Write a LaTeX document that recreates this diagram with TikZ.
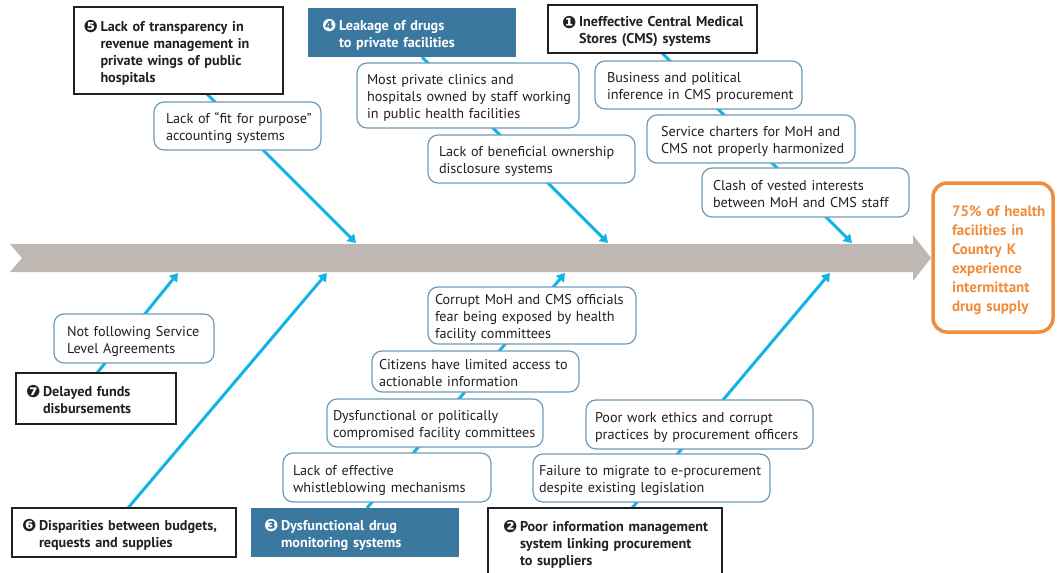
\documentclass[tikz,border=0pt]{standalone}
\usepackage{fontspec}
\setmainfont{PT Sans}
\newfontfamily\djv{DejaVu Sans}
\usetikzlibrary{arrows.meta,backgrounds,calc}
\definecolor{bonec}{RGB}{18,180,230}
\definecolor{subc}{RGB}{110,155,185}
\definecolor{hblue}{RGB}{58,120,160}
\definecolor{spinec}{RGB}{190,183,178}
\definecolor{effc}{RGB}{240,140,58}
\definecolor{txt}{RGB}{35,31,32}
\newcommand\nb[1]{\makebox[17pt][l]{\raisebox{-1.2pt}{\djv\fontsize{17}{14}\selectfont #1}}}
\newcommand\lns[1]{\raisebox{-3pt}[\height][\depth]{\begin{tabular}{@{}l@{}}#1\end{tabular}}}
\newcommand\hln[2]{\raisebox{-3pt}[\height][\depth]{\begin{tabular}{@{}l@{}l@{}}#1&#2\end{tabular}}}
\tikzset{
  every node/.style={outer sep=0pt},
  txtfont/.style={font=\fontsize{14.2}{17}\selectfont, text=txt},
  subbox/.style={txtfont, draw=subc, line width=1.2pt, fill=white, rounded corners=10pt,
    inner ysep=0pt, align=left, anchor=north west},
  hdrbox/.style={font=\fontsize{14.2}{17}\selectfont\bfseries, text=txt, draw=txt, line width=2pt,
    fill=white, inner ysep=0pt, align=left, anchor=north west},
  bluebox/.style={font=\fontsize{14.2}{17}\selectfont\bfseries, text=white, fill=hblue,
    inner ysep=0pt, align=left, anchor=north west},
  effbox/.style={font=\fontsize{15}{19}\selectfont\bfseries, text=effc, draw=effc, line width=3.5pt,
    fill=white, rounded corners=14pt, inner ysep=0pt, align=left, anchor=north west},
  bone/.style={draw=bonec, line width=3pt, -{Triangle[length=8pt,width=10pt]}},
}
\begin{document}
\begin{tikzpicture}[x=1pt,y=-1pt]
\useasboundingbox (0,0) rectangle (1063,573);
% effect
\node[effbox, inner xsep=19pt, text width=82pt, minimum height=149pt] (eff) at (933,183)
  {\lns{75\% of health\\facilities in\\Country K\\experience\\intermittant\\drug supply}};
% headers
\node[hdrbox, inner xsep=9.5pt, text width=190pt, minimum height=87pt] (h5) at (74,7)
  {\hln{\nb{❺}}{Lack of transparency in\\&revenue management in\\&private wings of public\\&hospitals}};
\node[bluebox, inner xsep=14pt, text width=180pt, minimum height=49pt] (h4) at (308,8)
  {\hln{\nb{❹}}{Leakage of drugs\\&to private facilities}};
\node[hdrbox, inner xsep=14pt, text width=181pt, minimum height=48pt] (h1) at (548,5)
  {\hln{\nb{❶}}{Ineffective Central Medical\\&Stores (CMS) systems}};
\node[hdrbox, inner xsep=10pt, text width=140pt, minimum height=51pt] (h7) at (16,373)
  {\hln{\nb{❼}}{Delayed funds\\&disbursements}};
\node[hdrbox, inner xsep=10pt, text width=204pt, minimum height=49pt] (h6) at (12,508)
  {\hln{\nb{❻}}{Disparities between budgets,\\&requests and supplies}};
\node[bluebox, inner xsep=13pt, text width=182pt, minimum height=49pt] (h3) at (251,508)
  {\hln{\nb{❸}}{Dysfunctional drug\\&monitoring systems}};
\node[hdrbox, inner xsep=15pt, text width=204pt, minimum height=68pt] (h2) at (488,508)
  {\hln{\nb{❷}}{Poor information management\\&system linking procurement\\&to suppliers}};
% coordinates of bone tips
\coordinate (t5) at (356,243);
\coordinate (t4) at (608,243);
\coordinate (t1) at (852,243);
\coordinate (t7) at (178,273);
\coordinate (t6) at (327,273);
\coordinate (t3) at (565,273);
\coordinate (t2) at (830,273);
% sub causes
\node[subbox, inner xsep=12pt, text width=143pt, minimum height=48pt] (s5a) at (154,102)
  {\lns{Lack of “fit for purpose”\\accounting systems}};
\node[subbox, inner xsep=10pt, text width=202pt, minimum height=65pt] (s4a) at (357,63)
  {\lns{Most private clinics and\\hospitals owned by staff working\\in public health facilities}};
\node[subbox, inner xsep=11pt, text width=185pt, minimum height=48pt] (s4b) at (428,135)
  {\lns{Lack of beneficial ownership\\disclosure systems}};
\node[subbox, inner xsep=12pt, text width=183pt, minimum height=48pt] (s1a) at (595,61)
  {\lns{Business and political\\inference in CMS procurement}};
\node[subbox, inner xsep=14pt, text width=180pt, minimum height=48pt] (s1b) at (647,115)
  {\lns{Service charters for MoH and\\CMS not properly harmonized}};
\node[subbox, inner xsep=11pt, text width=185pt, minimum height=49pt] (s1c) at (702,168)
  {\lns{Clash of vested interests\\between MoH and CMS staff}};
\node[subbox, inner xsep=13pt, text width=134pt, minimum height=49pt] (s7a) at (54,314)
  {\lns{Not following Service\\Level Agreements}};
\node[subbox, inner xsep=7pt, text width=194pt, minimum height=57pt] (s3a) at (428,287)
  {\lns{Corrupt MoH and CMS officials\\fear being exposed by health\\facility committees}};
\node[subbox, inner xsep=7pt, text width=193pt, minimum height=41pt] (s3b) at (372,351)
  {\lns{Citizens have limited access to\\actionable information}};
\node[subbox, inner xsep=6pt, text width=204pt, minimum height=48pt] (s3c) at (327,399)
  {\lns{Dysfunctional or politically\\compromised facility committees}};
\node[subbox, inner xsep=10pt, text width=188pt, minimum height=49pt] (s3d) at (283,453)
  {\lns{Lack of effective\\whistleblowing mechanisms}};
\node[subbox, inner xsep=9pt, text width=209pt, minimum height=49pt] (s2a) at (586,400)
  {\lns{Poor work ethics and corrupt\\practices by procurement officers}};
\node[subbox, inner xsep=6pt, text width=225pt, minimum height=48pt] (s2b) at (533,454)
  {\lns{Failure to migrate to e-procurement\\despite existing legislation}};
\begin{pgfonlayer}{background}
  \fill[spinec] (10,244) -- (913,244) -- (913,235) -- (931,258) -- (913,281) -- (913,272)
    -- (10,272) -- (22,258) -- cycle;
  \draw[bone] ($(h5.south west)+(133,0)$) -- (t5);
  \draw[bone] ($(h4.south west)+(114,0)$) -- (t4);
  \draw[bone] ($(h1.south west)+(114,0)$) -- (t1);
  \draw[bone] ($(h7.north west)+(81,0)$) -- (t7);
  \draw[bone] ($(h6.north west)+(116,0)$) -- (t6);
  \draw[bone] ($(h3.north west)+(116,0)$) -- (t3);
  \draw[bone] ($(h2.north west)+(144,0)$) -- (t2);
\end{pgfonlayer}
\end{tikzpicture}
\end{document}
